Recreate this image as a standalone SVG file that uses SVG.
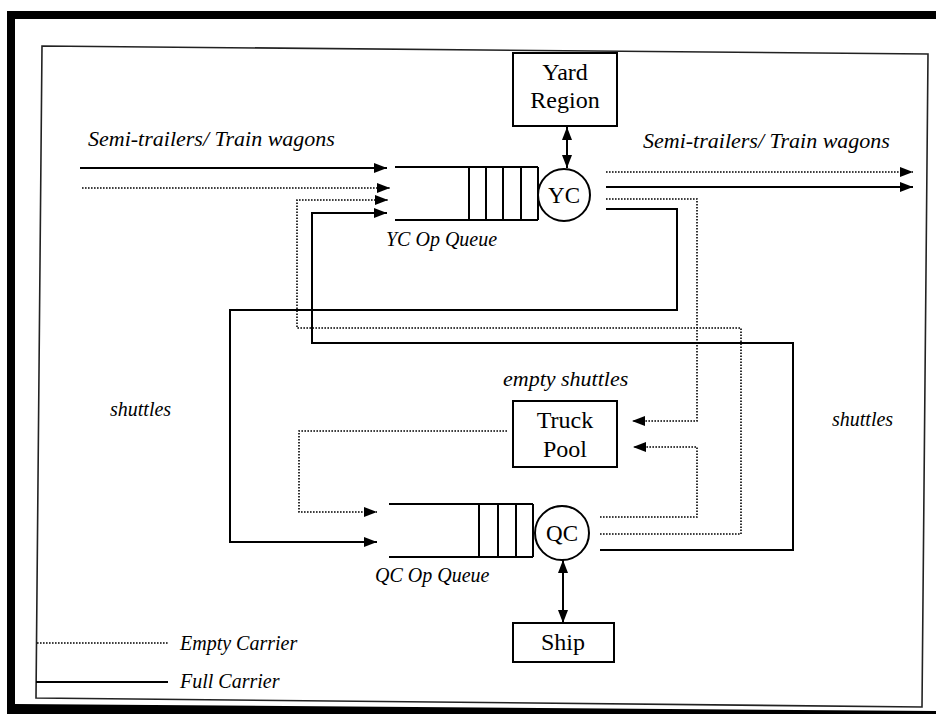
<svg xmlns="http://www.w3.org/2000/svg" width="936" height="714" viewBox="0 0 936 714">
<style>
  .box{fill:#fff;stroke:#000;stroke-width:2}
  .ln{fill:none;stroke:#000;stroke-width:2}
  .dot{fill:none;stroke:#000;stroke-width:1.6;stroke-dasharray:1.6 1.4}
  .t{font-family:"Liberation Serif","Times New Roman",serif;fill:#000}
  .lbl{font-family:"Liberation Serif","Times New Roman",serif;font-style:italic;fill:#000}
</style>
<defs>
  <marker id="ah" viewBox="0 0 13 10" refX="13" refY="5" markerWidth="13" markerHeight="10" markerUnits="userSpaceOnUse" orient="auto-start-reverse">
    <path d="M0,0 L13,5 L0,10 z" fill="#000"/>
  </marker>
</defs>
<rect x="0" y="0" width="936" height="714" fill="#fff"/>
<g id="frame">
  <polygon points="7,11 936,11 936,19 15,19 15,704 936,711 936,714 7,714" fill="#000"/>
  <polygon points="42,46 928,54 922,707 36,698" fill="none" stroke="#222" stroke-width="1.6"/>
</g>
<g id="connectors">
  <path class="ln" d="M80,168 H387" marker-end="url(#ah)"/>
  <path class="dot" d="M82,188 H390" marker-end="url(#ah)"/>
  <path class="dot" d="M600,534 H741 V328 H297 V200 H388" marker-end="url(#ah)"/>
  <path class="ln" d="M600,550 H793 V343 H312 V213 H387" marker-end="url(#ah)"/>
  <path class="dot" d="M606,172 H913" marker-end="url(#ah)"/>
  <path class="ln" d="M606,187 H913" marker-end="url(#ah)"/>
  <path class="dot" d="M606,199 H697 V421 H632" marker-end="url(#ah)"/>
  <path class="ln" d="M606,209 H677 V310 H230 V542 H377" marker-end="url(#ah)"/>
  <path class="dot" d="M600,517 H697 V447 H633" marker-end="url(#ah)"/>
  <path class="dot" d="M507,431 H299 V512 H377" marker-end="url(#ah)"/>
  <path class="ln" d="M567,127 V168" marker-start="url(#ah)" marker-end="url(#ah)"/>
  <path class="ln" d="M563,560 V623" marker-start="url(#ah)" marker-end="url(#ah)"/>
</g>
<g id="yard-region">
  <rect class="box" x="513" y="53" width="104" height="73"/>
  <text class="t" x="565" y="80" font-size="24" text-anchor="middle">Yard</text>
  <text class="t" x="565" y="108" font-size="24" text-anchor="middle">Region</text>
</g>
<g id="yc-queue">
  <path class="ln" d="M395,167 H538 M395,220 H538 M469,167 V220 M486,167 V220 M503,167 V220 M521,167 V220 M538,167 V220"/>
  <text class="lbl" x="386" y="246" font-size="20">YC Op Queue</text>
</g>
<g id="yc">
  <circle class="box" cx="564" cy="195" r="26"/>
  <text class="t" x="564" y="203" font-size="23" text-anchor="middle">YC</text>
</g>
<g id="truck-pool">
  <rect class="box" x="513" y="401" width="104" height="66"/>
  <text class="t" x="565" y="428" font-size="24" text-anchor="middle">Truck</text>
  <text class="t" x="565" y="457" font-size="24" text-anchor="middle">Pool</text>
</g>
<g id="qc-queue">
  <path class="ln" d="M389,504 H533 M389,557 H533 M479,504 V557 M498,504 V557 M516,504 V557 M533,504 V557"/>
  <text class="lbl" x="375" y="582" font-size="20">QC Op Queue</text>
</g>
<g id="qc">
  <circle class="box" cx="562" cy="533" r="27"/>
  <text class="t" x="562" y="541" font-size="23" text-anchor="middle">QC</text>
</g>
<g id="ship">
  <rect class="box" x="513" y="623" width="101" height="39"/>
  <text class="t" x="563" y="650" font-size="24" text-anchor="middle">Ship</text>
</g>
<g id="labels">
  <text class="lbl" x="88" y="146" font-size="22">Semi-trailers/ Train wagons</text>
  <text class="lbl" x="643" y="148" font-size="22">Semi-trailers/ Train wagons</text>
  <text class="lbl" x="503" y="386" font-size="22">empty shuttles</text>
  <text class="lbl" x="110" y="416" font-size="20">shuttles</text>
  <text class="lbl" x="832" y="426" font-size="20">shuttles</text>
</g>
<g id="legend">
  <path class="dot" d="M37,643 H168"/>
  <path class="ln" d="M36,682 H168"/>
  <text class="lbl" x="180" y="650" font-size="20">Empty Carrier</text>
  <text class="lbl" x="180" y="688" font-size="20">Full Carrier</text>
</g>
</svg>
